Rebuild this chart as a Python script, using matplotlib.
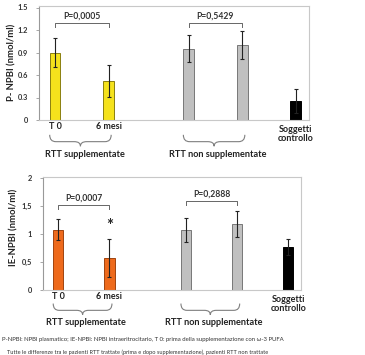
import numpy as np
import matplotlib
matplotlib.use("Agg")
import matplotlib.pyplot as plt
from matplotlib.path import Path
from matplotlib.patches import PathPatch
import matplotlib.transforms as mtransforms

plt.rcParams["font.family"] = ["Lato", "DejaVu Sans"]

# data
positions = [0, 1, 2.5, 3.5, 4.5]
tick_names = ["T 0", "6 mesi"]
groups = ["RTT supplementate", "RTT non supplementate"]
control_name = "Soggetti\ncontrollo"

p_values = [0.90, 0.52, 0.95, 1.00, 0.26]
p_errors = [0.19, 0.21, 0.18, 0.19, 0.16]
p_pvals = ["P=0,0005", "P=0,5429"]
p_ticks = [0, 0.3, 0.6, 0.9, 1.2, 1.5]
p_ticklabels = ["0", "0.3", "0.6", "0.9", "1.2", "1.5"]

ie_values = [1.08, 0.58, 1.07, 1.18, 0.77]
ie_errors = [0.19, 0.34, 0.21, 0.23, 0.14]
ie_pvals = ["P=0,0007", "P=0,2888"]
ie_ticks = [0, 0.5, 1, 1.5, 2]
ie_ticklabels = ["0", "0,5", "1", "1,5", "2"]

footnote1 = "P-NPBI: NPBI plasmatico; IE-NPBI: NPBI intraeritrocitario, T 0: prima della supplementazione con \u03c9-3 PUFA"
footnote2 = "Tutte le differenze tra le pazienti RTT trattate (prima e dopo supplementazione), pazienti RTT non trattate"


def brace(ax, x1, x2, ytop, ybot):
    trans = mtransforms.blended_transform_factory(ax.transData, ax.transAxes)
    xm = (x1 + x2) / 2
    ym = ytop + (ybot - ytop) * 0.6
    q = (x2 - x1) * 0.1
    verts = [(x1, ytop), (x1, ym), (x1 + q, ym),
             (xm - q, ym), (xm, ym), (xm, ybot),
             (xm, ym), (xm + q, ym),
             (x2 - q, ym), (x2, ym), (x2, ytop)]
    codes = [Path.MOVETO, Path.CURVE3, Path.CURVE3,
             Path.LINETO, Path.CURVE3, Path.CURVE3,
             Path.CURVE3, Path.CURVE3,
             Path.LINETO, Path.CURVE3, Path.CURVE3]
    ax.add_patch(PathPatch(Path(verts, codes), fc="none", ec="#7f7f7f", lw=0.8,
                           transform=trans, clip_on=False))


def panel(ax, values, errors, color, edge, pvals, ticks, ticklabels, ylim, bracket_y, label_y, brace_y):
    colors = [color, color, "#c0c0c0", "#c0c0c0", "black"]
    edges = [edge, edge, "#777777", "#777777", "black"]
    ax.bar(positions, values, width=0.2, color=colors, edgecolor=edges, linewidth=0.7, zorder=2)
    ax.errorbar(positions, values, yerr=errors, fmt="none", ecolor="#222222",
                elinewidth=0.8, capsize=1.2, capthick=0.8, zorder=3)
    ax.set_xlim(-0.3, 4.75)
    ax.set_ylim(*ylim)
    ax.set_yticks(ticks)
    ax.set_yticklabels(ticklabels, fontsize=5.4, fontweight="bold", color="#333333")
    ax.set_xticks([])
    for s in ax.spines.values():
        s.set_color("#c8c8c8")
        s.set_linewidth(0.8)
    ax.spines["left"].set_color("#999999")
    ax.tick_params(axis="y", length=2, width=0.6, color="#999999", pad=6)

    # p-value brackets
    dy = (ylim[1] - ylim[0]) * 0.035
    for (a, b), y, txt in zip([(0, 1), (2.5, 3.5)], bracket_y, pvals):
        ax.plot([a, a, b, b], [y - dy, y, y, y - dy],
                color="#666666", lw=0.7, zorder=3)
        ax.text((a + b) / 2, y + dy * 0.6, txt, ha="center", va="bottom",
                fontsize=6.2, fontweight="bold", color="#333333")

    trans = mtransforms.blended_transform_factory(ax.transData, ax.transAxes)
    for x, t in zip(positions[:2], tick_names):
        ax.text(x, -0.02, t, transform=trans, ha="center", va="top",
                fontsize=6.5, fontweight="bold", color="#222222")
    ax.text(positions[4], -0.04, control_name, transform=trans, ha="center", va="top",
            fontsize=6.5, fontweight="bold", color="#222222", linespacing=1.1)
    for (a, b), g in zip([(0, 1), (2.5, 3.5)], groups):
        brace(ax, a - 0.1, b + 0.05, brace_y[0], brace_y[1])
        ax.text((a + b) / 2 + 0.05, label_y, g, transform=trans, ha="center", va="center",
                fontsize=6.6, fontweight="bold", color="#222222")


fig = plt.figure(figsize=(3.65, 3.55), dpi=100)
ax1 = fig.add_axes([39 / 365, 1 - 120 / 355, 270 / 365, 114 / 355])
ax2 = fig.add_axes([43 / 365, 1 - 290 / 355, 258 / 365, 113 / 355])

panel(ax1, p_values, p_errors, "#f5e21c", "#8a7f10", p_pvals, p_ticks, p_ticklabels,
      (0, 1.52), [1.29, 1.29], -0.30, (-0.13, -0.23))
panel(ax2, ie_values, ie_errors, "#ee6a1c", "#a04410", ie_pvals, ie_ticks, ie_ticklabels,
      (0, 2.02), [1.52, 1.59], -0.29, (-0.12, -0.22))

ax2.text(positions[1], ie_values[1] + ie_errors[1] + 0.08, "*", ha="center", va="bottom",
         fontsize=12, fontweight="bold", color="#222222")

fig.text(12 / 365, 1 - 62 / 355, "P- NPBI (nmol/ml)", rotation=90, ha="center", va="center",
         fontsize=6.8, fontweight="bold", color="#222222")
fig.text(14 / 365, 1 - 227 / 355, "IE-NPBI (nmol/ml)", rotation=90, ha="center", va="center",
         fontsize=6.8, fontweight="bold", color="#222222")

fig.text(2 / 365, 1 - 340 / 355, footnote1, ha="left", va="center", fontsize=4.35, color="#333333")
fig.text(7 / 365, 1 - 352 / 355, footnote2, ha="left", va="center", fontsize=4.1, color="#333333")

fig.savefig("out.png", dpi=100)
